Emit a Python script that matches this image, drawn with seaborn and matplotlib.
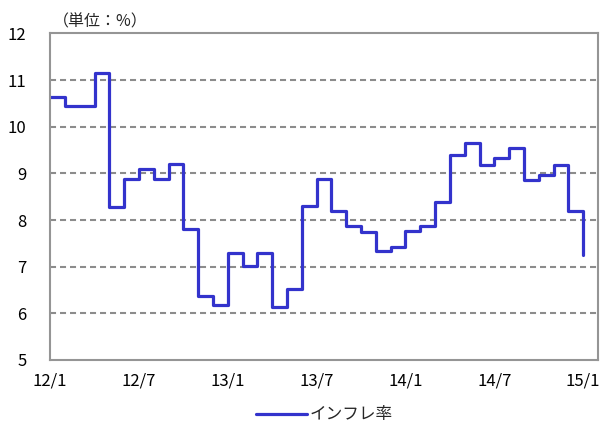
import numpy as np
import pandas as pd
import matplotlib
matplotlib.use("Agg")
import matplotlib.pyplot as plt
import seaborn as sns

# monthly inflation rate, 2012/1 .. 2015/1
months = np.arange(37)
inflation = [10.63, 10.44, 10.44, 11.15, 8.27, 8.88, 9.09, 8.88, 9.20, 7.80,
             6.37, 6.17, 7.30, 7.02, 7.30, 6.14, 6.53, 8.30, 8.88, 8.19,
             7.88, 7.74, 7.34, 7.42, 7.77, 7.88, 8.38, 9.39, 9.66, 9.17,
             9.32, 9.55, 8.85, 8.96, 9.17, 8.19, 7.25]
tick_pos = [0, 6, 12, 18, 24, 30, 36]
tick_labels = ["12/1", "12/7", "13/1", "13/7", "14/1", "14/7", "15/1"]
series_name = "インフレ率"

df = pd.DataFrame({"month": months, "rate": inflation})

sns.set_theme(style="white")
plt.rcParams['font.family'] = ['Noto Sans CJK JP', 'DejaVu Sans']

fig = plt.figure(figsize=(6.04, 4.23), dpi=100)
ax = fig.add_axes([0.083, 0.149, 0.907, 0.772])

sns.lineplot(data=df, x="month", y="rate", ax=ax, color="#3333CC",
             linewidth=2.3, drawstyle="steps-post", label=series_name)

ax.set_xlim(0, 37)
ax.set_ylim(5, 12)
ax.set_yticks(range(5, 13))
ax.set_xticks(tick_pos)
ax.set_xticklabels(tick_labels)
ax.set_xlabel("")
ax.set_ylabel("")

for y in range(6, 12):
    ax.axhline(y, color="#8c8c8c", linewidth=1.5, linestyle=(0, (2.9, 1.9)), zorder=0)

for s in ax.spines.values():
    s.set_color("#959595")
    s.set_linewidth(1.5)

ax.tick_params(axis="x", direction="in", length=4, width=1.2, color="#959595",
               labelsize=12, pad=9)
ax.tick_params(axis="y", length=0, labelsize=12, pad=17)
for lab in ax.get_xticklabels() + ax.get_yticklabels():
    lab.set_color("black")

fig.text(0.088, 0.949, "（単位：%）", fontsize=11.5, ha="left", va="center")

ax.legend(loc="center", bbox_to_anchor=(0.5, -0.168), frameon=False,
          fontsize=12, handlelength=3.1, handletextpad=0.1)

fig.savefig("out.png", dpi=100)
